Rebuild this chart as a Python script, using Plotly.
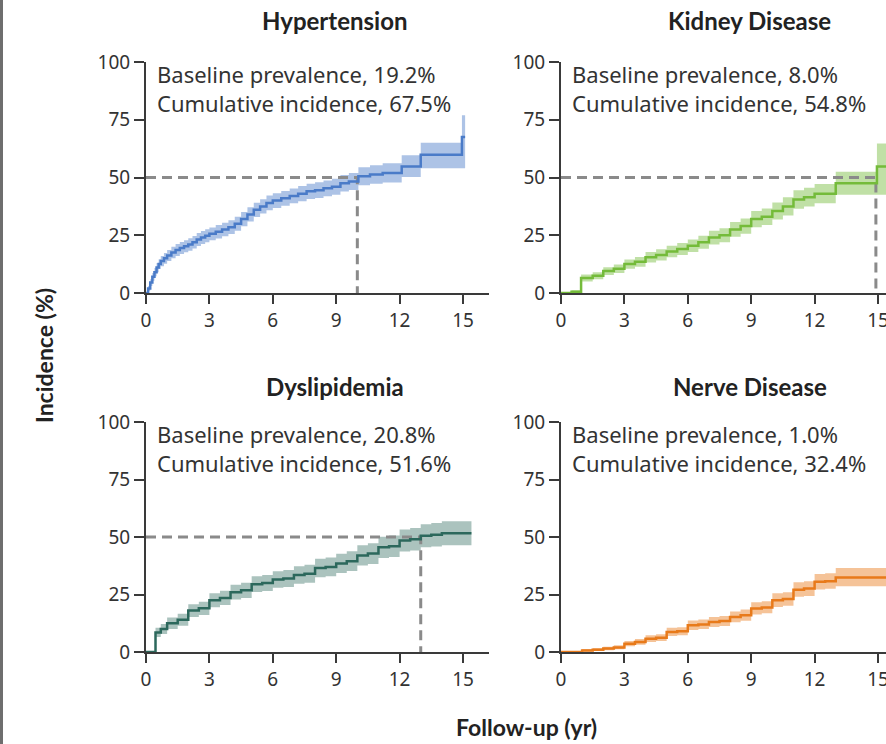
import plotly.graph_objects as go

W, H = 886, 744

# ---------------- data ----------------
titles = ["Hypertension", "Kidney Disease", "Dyslipidemia", "Nerve Disease"]
baseline = ["19.2%", "8.0%", "20.8%", "1.0%"]
cumulative = ["67.5%", "54.8%", "51.6%", "32.4%"]
median_time = [10.0, 14.9, 13.0, None]

t_ht = [0, 0.1, 0.2, 0.3, 0.4, 0.5, 0.6, 0.7, 0.85, 1.0, 1.2, 1.4, 1.6, 1.8, 2.0, 2.2, 2.4, 2.6, 2.8, 3.0,
        3.3, 3.6, 3.9, 4.2, 4.5, 4.8, 5.1, 5.4, 5.7, 6.0, 6.4, 6.8, 7.2, 7.6, 8.0, 8.4, 8.8, 9.2, 9.6, 10.05,
        10.6, 11.2, 12.1, 13.0, 14.95, 15.1]
v_ht = [0, 2, 4.5, 7, 9, 11, 12.5, 13.8, 15, 16.2, 17.5, 18.6, 19.5, 20.2, 21, 22, 23.2, 24, 24.8, 25.6,
        26.5, 27.5, 28.5, 30, 32, 34, 36, 37.5, 39, 40, 41, 42, 43, 44, 44.5, 45.3, 46, 47.5, 48.3, 50.5,
        51.3, 52, 54.8, 59.8, 67.5, 67.5]
lo_ht = [0, 1, 3, 5.3, 7.2, 9, 10.4, 11.6, 12.7, 13.8, 15, 16, 16.9, 17.6, 18.3, 19.3, 20.4, 21.2, 22, 22.8,
         23.6, 24.6, 25.5, 27, 28.9, 30.9, 32.9, 34.4, 35.8, 36.8, 37.8, 38.8, 39.7, 40.7, 41.1, 41.9, 42.5, 43.9, 44.6, 46.6,
         47.3, 47.8, 50.2, 54.0, 54.0, 54.0]
up_ht = [0, 3, 6, 8.7, 10.8, 13, 14.6, 16, 17.3, 18.6, 20, 21.2, 22.1, 22.8, 23.7, 24.7, 26, 26.8, 27.6, 28.4,
         29.4, 30.4, 31.5, 33, 35.1, 37.1, 39.1, 40.6, 42.2, 43.2, 44.2, 45.2, 46.3, 47.3, 47.9, 48.7, 49.5, 51.1, 52, 54.4,
         55.3, 56.2, 59.6, 65, 77, 77]

t_kd = [0, 0.5, 0.95, 1.5, 2.0, 2.5, 3.0, 3.5, 4.0, 4.5, 5.0, 5.5, 6.0, 6.5, 7.0, 7.5, 8.0, 8.5, 9.0, 9.5,
        10.0, 10.5, 11.0, 11.5, 12.0, 13.0, 14.95, 15.5]
v_kd = [0, 0.5, 6.5, 7.5, 9.5, 10.5, 12.5, 13.5, 15.5, 16.5, 18, 19, 20.5, 22, 24, 25, 27.5, 29, 32, 33,
        35.5, 37.5, 40.5, 41.5, 43, 47.5, 54.8, 54.8]
lo_kd = [0, 0, 5, 6, 7.8, 8.7, 10.5, 11.4, 13.2, 14.1, 15.5, 16.4, 17.8, 19.2, 21, 22, 24.3, 25.7, 28.5, 29.4,
         31.8, 33.6, 36.5, 37.4, 38.8, 42.5, 42.5, 42.5]
up_kd = [0, 1.2, 8, 9, 11.2, 12.3, 14.5, 15.6, 17.8, 18.9, 20.5, 21.6, 23.2, 24.8, 27, 28, 30.7, 32.3, 35.5, 36.6,
         39.2, 41.4, 44.5, 45.6, 47.2, 52.5, 64.7, 64.7]

t_dl = [0, 0.45, 0.7, 1.0, 1.5, 2.0, 2.5, 3.0, 3.5, 4.0, 4.5, 5.0, 5.5, 6.0, 6.5, 7.0, 7.5, 8.0, 8.5, 9.0,
        9.5, 10.0, 10.5, 11.0, 11.5, 12.0, 12.5, 13.0, 13.5, 14.0, 15.4]
v_dl = [0, 8.5, 10, 12.5, 14, 18, 19, 22.5, 23.5, 26, 26.8, 29.5, 30, 31.5, 32, 33.5, 34, 36.5, 37, 38.5,
        39.5, 42, 42.8, 45.5, 46, 48.5, 49, 50.5, 51, 51.6, 51.6]
lo_dl = [0, 6.5, 7.8, 10, 11.4, 15.2, 16.1, 19.5, 20.4, 22.8, 23.5, 26.1, 26.5, 27.9, 28.3, 29.7, 30.1, 32.5, 32.9, 34.3,
         35.2, 37.6, 38.3, 40.9, 41.3, 43.7, 44.1, 45.5, 45.9, 46.4, 46.4]
up_dl = [0, 10.5, 12.2, 15, 16.6, 20.8, 21.9, 25.5, 26.6, 29.2, 30.1, 32.9, 33.5, 35.1, 35.7, 37.3, 37.9, 40.5, 41.1, 42.7,
         43.8, 46.4, 47.3, 50.1, 50.7, 53.3, 53.9, 55.5, 56.1, 56.8, 56.8]

t_nv = [0, 1.0, 1.5, 2.0, 2.5, 3.0, 3.5, 4.0, 4.5, 5.0, 5.5, 6.0, 6.5, 7.0, 7.5, 8.0, 8.5, 9.0, 9.5, 10.0,
        10.5, 11.0, 11.5, 12.0, 12.5, 13.0, 15.5]
v_nv = [0, 0.7, 1.0, 1.5, 2.0, 3.6, 4.4, 5.8, 6.2, 8.7, 9.0, 11.6, 12.0, 13.0, 13.5, 15.2, 16.0, 18.9, 19.4, 22.5,
        23.0, 27.1, 27.6, 30.5, 30.8, 32.4, 32.4]
lo_nv = [0, 0.2, 0.4, 0.8, 1.2, 2.5, 3.2, 4.4, 4.8, 7, 7.3, 9.6, 10, 10.9, 11.3, 12.9, 13.6, 16.3, 16.8, 19.6,
         20.1, 24, 24.4, 27.2, 27.5, 28.6, 28.6]
up_nv = [0, 1.3, 1.7, 2.3, 2.9, 4.8, 5.7, 7.3, 7.7, 10.5, 10.8, 13.7, 14.1, 15.2, 15.7, 17.6, 18.5, 21.6, 22.1, 25.5,
         26, 30.3, 30.8, 33.9, 34.2, 36.5, 36.5]

x_ticks = [0, 3, 6, 9, 12, 15]
y_ticks = [0, 25, 50, 75, 100]

series = [(t_ht, v_ht, lo_ht, up_ht), (t_kd, v_kd, lo_kd, up_kd),
          (t_dl, v_dl, lo_dl, up_dl), (t_nv, v_nv, lo_nv, up_nv)]
line_colors = ["#4a7bc8", "#74bb3a", "#2c685c", "#e87a1a"]
band_colors = ["rgba(74,123,200,0.45)", "rgba(116,187,58,0.45)", "rgba(44,104,92,0.40)", "rgba(232,122,26,0.45)"]

# ---------------- layout geometry (pixels) ----------------
col_x = [(146, 489), (561, 886)]
row_y = [(62, 293), (422, 652)]
px_per_year = 317 / 15.0

def px(x):
    return x / W

def py(y):
    return 1 - y / H

fig = go.Figure()
axis_font = dict(family="Noto Sans", size=19, color="#333333")
AX = "#3a3a3a"

for i in range(4):
    r, c = divmod(i, 2)
    n = i + 1
    xa = "x" if n == 1 else f"x{n}"
    ya = "y" if n == 1 else f"y{n}"
    t, v, lo, up = series[i]
    fig.add_trace(go.Scatter(x=t, y=lo, mode="lines", line=dict(width=0, shape="hv"),
                             xaxis=xa, yaxis=ya, showlegend=False, hoverinfo="skip"))
    fig.add_trace(go.Scatter(x=t, y=up, mode="lines", line=dict(width=0, shape="hv"),
                             fill="tonexty", fillcolor=band_colors[i],
                             xaxis=xa, yaxis=ya, showlegend=False, hoverinfo="skip"))
    m = median_time[i]
    if m is not None:
        fig.add_trace(go.Scatter(x=[0, m, m], y=[50, 50, 0], mode="lines",
                                 line=dict(color="#8a8a8a", width=3, dash="10px,6px"),
                                 xaxis=xa, yaxis=ya, showlegend=False, hoverinfo="skip"))
    fig.add_trace(go.Scatter(x=t, y=v, mode="lines", line=dict(color=line_colors[i], width=2.5, shape="hv"),
                             xaxis=xa, yaxis=ya, showlegend=False))

    x0, x1 = col_x[c]
    y0, y1 = row_y[r]
    xmax = (x1 - x0) / px_per_year
    xkey = "xaxis" if n == 1 else f"xaxis{n}"
    ykey = "yaxis" if n == 1 else f"yaxis{n}"
    fig.update_layout({
        xkey: dict(domain=[px(x0), px(x1)], range=[0, xmax], anchor=ya, automargin=False,
                   tickvals=x_ticks, ticks="outside", ticklen=9, tickwidth=2, tickcolor=AX,
                   showline=True, linecolor=AX, linewidth=2, showgrid=False, zeroline=False,
                   tickfont=axis_font, fixedrange=True, ticklabeloverflow="allow"),
        ykey: dict(domain=[py(y1), py(y0)], range=[0, 100], anchor=xa, automargin=False,
                   tickvals=y_ticks, ticks="outside", ticklen=10, tickwidth=2, tickcolor=AX,
                   showline=True, linecolor=AX, linewidth=2, showgrid=False, zeroline=False,
                   tickfont=axis_font, fixedrange=True),
    })

    fig.add_annotation(xref="paper", yref="paper", x=px(x0 + 9), y=py(y0 - 5),
                       xanchor="left", yanchor="top", align="left", showarrow=False,
                       text=f"Baseline prevalence, {baseline[i]}<br>Cumulative incidence, {cumulative[i]}",
                       font=dict(family="Noto Sans", size=22, color="#333333"))

title_pos = [(334, 21), (749, 21), (335, 386), (750, 386)]
for i in range(4):
    fig.add_annotation(xref="paper", yref="paper", x=px(title_pos[i][0]), y=py(title_pos[i][1]),
                       xanchor="center", yanchor="middle", showarrow=False,
                       text=f"<b>{titles[i]}</b>",
                       font=dict(family="Lato", size=24, color="#222222"))

fig.add_annotation(xref="paper", yref="paper", x=px(44), y=py(356), textangle=-90,
                   xanchor="center", yanchor="middle", showarrow=False,
                   text="<b>Incidence (%)</b>", font=dict(family="Lato", size=23, color="#222222"))
fig.add_annotation(xref="paper", yref="paper", x=px(526), y=py(727),
                   xanchor="center", yanchor="middle", showarrow=False,
                   text="<b>Follow-up (yr)</b>", font=dict(family="Lato", size=23, color="#222222"))

fig.add_shape(type="rect", xref="paper", yref="paper", x0=0, x1=px(3), y0=0, y1=1,
              fillcolor="#6e6e6e", line=dict(width=0), layer="above")

fig.update_layout(width=W, height=H, margin=dict(l=0, r=0, t=0, b=0, autoexpand=False),
                  paper_bgcolor="white", plot_bgcolor="white", showlegend=False)

fig.write_html("out.html", config={"displayModeBar": False},
               post_script="document.body.style.margin='0px';document.body.style.overflow='hidden';")
